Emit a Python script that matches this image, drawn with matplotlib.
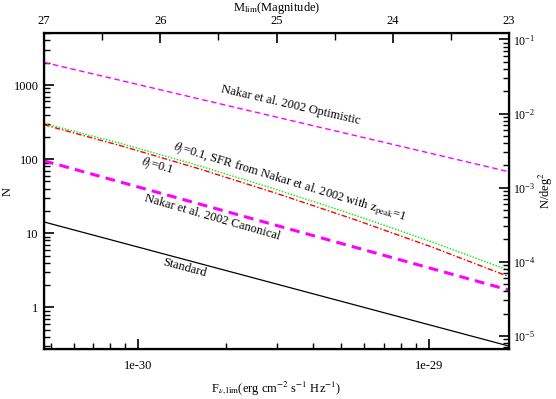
import matplotlib
matplotlib.use("Agg")
import matplotlib.pyplot as plt
from matplotlib.ticker import LogLocator, NullFormatter, FixedLocator, FixedFormatter
import numpy as np

plt.rcParams["font.family"] = ["Liberation Serif", "DejaVu Serif"]
plt.rcParams["mathtext.fontset"] = "stix"
plt.rcParams["font.size"] = 9
plt.rcParams["lines.scale_dashes"] = False

# flux limit (erg cm^-2 s^-1 Hz^-1) and number counts
flux_lim = [4.74e-31, 1.888e-29]
n_optimistic = [2020, 67.6]
n_canonical = [95, 1.71]
n_standard = [14.2, 0.30]

flux_curve = [4.74e-31, 8.80e-31, 1.62e-30, 3.00e-30, 5.53e-30, 1.03e-29, 1.888e-29]
n_theta = [291, 150, 74.1, 34.4, 15.4, 6.46, 2.59]
n_theta_sfr = [304, 161, 81.5, 38.7, 17.7, 7.60, 3.14]

SKY_DEG2 = 41253.0
ZP = 48.81
mags = [27, 26, 25, 24, 23]
mag_minor = [26.5, 25.5, 24.5, 23.5]

xlim = (4.74e-31, 1.888e-29)
ylim = (0.274, 5040)

fig = plt.figure(figsize=(5.56, 3.99), dpi=100)
ax = fig.add_axes([44 / 556, 1 - 349 / 399, 465 / 556, 316 / 399])

ax.plot(flux_lim, n_optimistic, color="#ff00ff", lw=1.0, dashes=(4, 2.5))
ax.plot(flux_curve, n_theta_sfr, color="#00ee00", lw=1.0, dashes=(1, 1.2))
ax.plot(flux_curve, n_theta, color="#ff0000", lw=1.0, dashes=(4, 1.5, 1, 1.5))
ax.plot(flux_lim, n_canonical, color="#ff00ff", lw=2.2, dashes=(7, 4.5))
ax.plot(flux_lim, n_standard, color="black", lw=0.9)

ax.set_xscale("log")
ax.set_yscale("log")
ax.set_xlim(*xlim)
ax.set_ylim(*ylim)

ax.xaxis.set_major_locator(FixedLocator([1e-30, 1e-29]))
ax.xaxis.set_major_formatter(FixedFormatter(["1e-30", "1e-29"]))
ax.xaxis.set_minor_locator(LogLocator(base=10, subs=np.arange(2, 10)))
ax.xaxis.set_minor_formatter(NullFormatter())
ax.yaxis.set_major_locator(FixedLocator([1, 10, 100, 1000]))
ax.yaxis.set_major_formatter(FixedFormatter(["1", "10", "100", "1000"]))
ax.yaxis.set_minor_locator(LogLocator(base=10, subs=np.arange(2, 10)))
ax.yaxis.set_minor_formatter(NullFormatter())

ax.tick_params(which="both", direction="in", top=False, right=False)
ax.tick_params(axis="x", which="major", length=7, width=1.2, pad=8)
ax.tick_params(axis="x", which="minor", length=4, width=1.0)
ax.tick_params(axis="y", which="major", length=7, width=1.2, pad=4)
ax.tick_params(axis="y", which="minor", length=4, width=1.0)
for s in ax.spines.values():
    s.set_linewidth(1.6)

ax.set_xlabel(r"F$_{\nu,\rm lim}$(erg cm$^{-2}$ s$^{-1}$ Hz$^{-1}$)")
ax.xaxis.set_label_coords(0.5, -0.095)
ax.set_ylabel("N")
ax.yaxis.set_label_coords(-0.066, 0.5)

# right axis: counts per square degree over the whole sky
axr = ax.twinx()
axr.set_yscale("log")
axr.set_ylim(ylim[0] / SKY_DEG2, ylim[1] / SKY_DEG2)
axr.yaxis.set_major_locator(LogLocator(base=10))
axr.yaxis.set_minor_locator(LogLocator(base=10, subs=np.arange(2, 10)))
axr.yaxis.set_minor_formatter(NullFormatter())
axr.tick_params(which="both", direction="in")
axr.tick_params(which="major", length=7, width=1.2, pad=3, labelsize=8.5)
axr.tick_params(which="minor", length=4, width=1.0)
axr.set_ylabel(r"N/deg$^2$", rotation=90, va="center")
axr.yaxis.set_label_coords(1.079, 0.5)

# top axis: limiting magnitude
axt = ax.twiny()
axt.set_xscale("log")
axt.set_xlim(*xlim)
mag_flux = [10 ** (-(m + ZP) / 2.5) for m in mags]
mag_flux_minor = [10 ** (-(m + ZP) / 2.5) for m in mag_minor]
axt.xaxis.set_major_locator(FixedLocator(mag_flux))
axt.xaxis.set_major_formatter(FixedFormatter([str(m) for m in mags]))
axt.xaxis.set_minor_locator(FixedLocator(mag_flux_minor))
axt.xaxis.set_minor_formatter(NullFormatter())
axt.tick_params(which="both", direction="in")
axt.tick_params(which="major", length=7, width=1.2, pad=4)
axt.tick_params(which="minor", length=5, width=1.0)
axt.set_xlabel(r"M$_{\rm lim}$(Magnitude)", labelpad=3)

# curve labels
tr = ax.transAxes
ax.text(0.531, 0.772, "Nakar et al. 2002 Optimistic", transform=tr,
        rotation=-13, ha="center", va="center")
ax.text(0.527, 0.528, r"$\theta_j$=0.1, SFR from Nakar et al. 2002 with z$_{\rm peak}$=1",
        transform=tr, rotation=-17, ha="center", va="center")
ax.text(0.243, 0.579, r"$\theta_j$=0.1", transform=tr,
        rotation=-16, ha="center", va="center")
ax.text(0.363, 0.415, "Nakar et al. 2002 Canonical", transform=tr,
        rotation=-16, ha="center", va="center")
ax.text(0.303, 0.256, "Standard", transform=tr,
        rotation=-15, ha="center", va="center")

fig.savefig("out.png", dpi=100)
